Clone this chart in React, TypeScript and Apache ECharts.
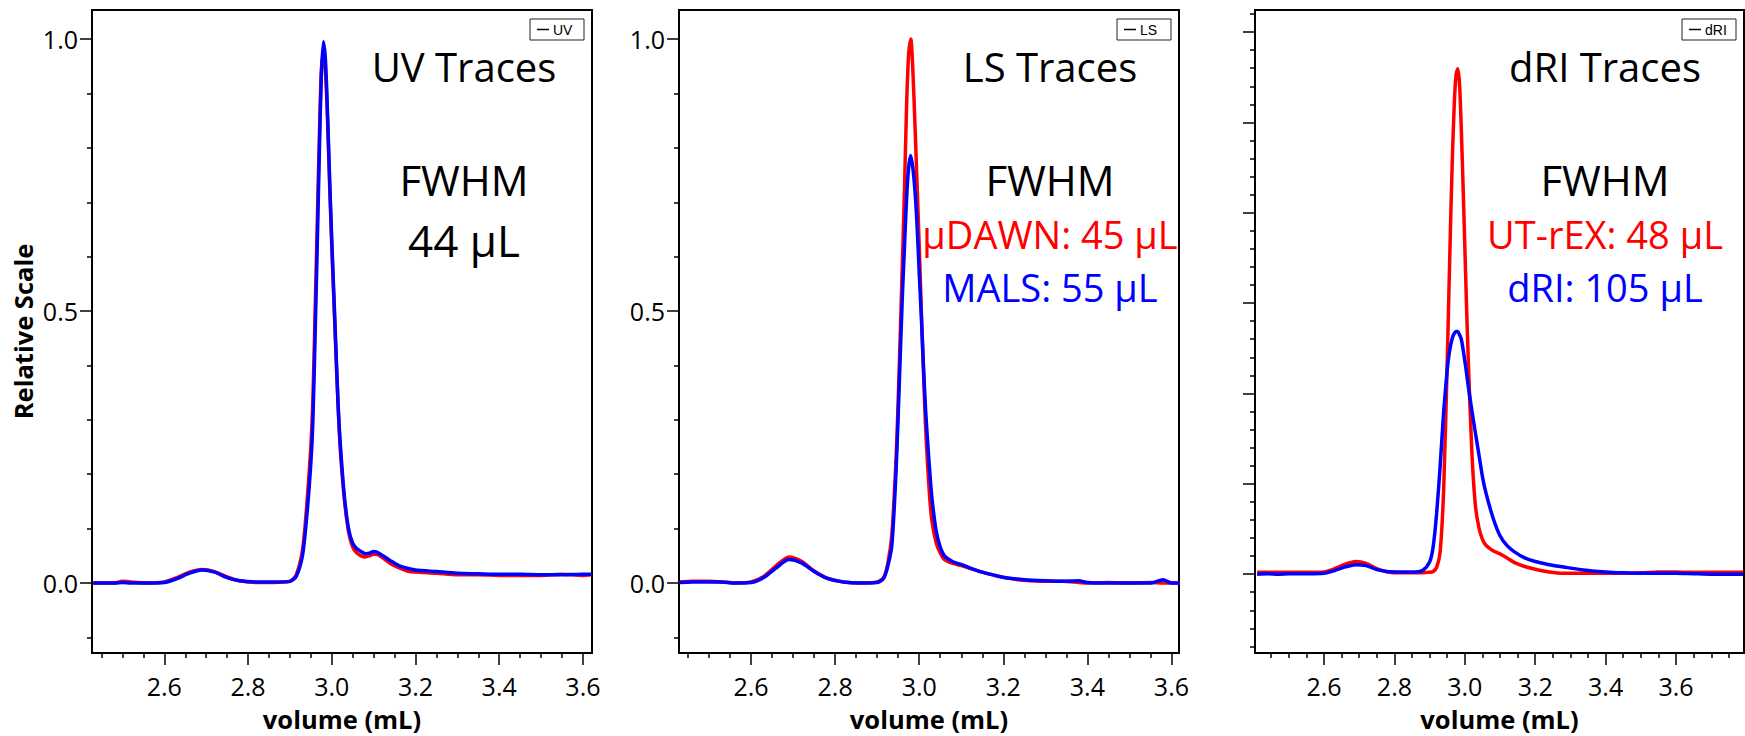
import React, { useEffect, useRef } from "react";
import * as echarts from "echarts";

// ---------- DATA ----------
// UV panel
const uvX = [2.43, 2.48, 2.5, 2.52, 2.55, 2.6, 2.63, 2.66, 2.69, 2.72, 2.75, 2.78, 2.82, 2.86, 2.9, 2.915, 2.93, 2.94, 2.95, 2.955, 2.96, 2.965, 2.97, 2.975, 2.98, 2.985, 2.99, 2.995, 3.0, 3.005, 3.01, 3.015, 3.02, 3.03, 3.04, 3.05, 3.06, 3.07, 3.08, 3.09, 3.1, 3.11, 3.12, 3.14, 3.16, 3.18, 3.2, 3.25, 3.3, 3.35, 3.4, 3.45, 3.5, 3.55, 3.6, 3.62];
const uvRed = [0.0, 0.0, 0.003, 0.002, 0.0, 0.002, 0.01, 0.02, 0.025, 0.021, 0.011, 0.004, 0.001, 0.001, 0.003, 0.015, 0.06, 0.14, 0.25, 0.34, 0.49, 0.65, 0.81, 0.94, 0.975, 0.94, 0.85, 0.73, 0.62, 0.52, 0.42, 0.33, 0.25, 0.155, 0.095, 0.066, 0.055, 0.05, 0.048, 0.05, 0.053, 0.052, 0.047, 0.036, 0.028, 0.022, 0.02, 0.018, 0.015, 0.015, 0.014, 0.014, 0.014, 0.016, 0.014, 0.015];
const uvBlue = [0.0, 0.0, 0.001, 0.0, 0.0, 0.001, 0.008, 0.018, 0.024, 0.02, 0.01, 0.004, 0.002, 0.002, 0.003, 0.012, 0.05, 0.12, 0.22, 0.3, 0.45, 0.61, 0.78, 0.93, 0.995, 0.96, 0.86, 0.74, 0.63, 0.53, 0.43, 0.33, 0.26, 0.16, 0.1, 0.073, 0.063, 0.058, 0.054, 0.055, 0.058, 0.056, 0.051, 0.041, 0.032, 0.027, 0.024, 0.021, 0.018, 0.017, 0.016, 0.016, 0.015, 0.015, 0.016, 0.016];

// LS panel
const lsX = [2.43, 2.46, 2.5, 2.53, 2.56, 2.6, 2.63, 2.66, 2.69, 2.72, 2.75, 2.78, 2.82, 2.86, 2.9, 2.915, 2.925, 2.935, 2.945, 2.95, 2.955, 2.96, 2.965, 2.97, 2.975, 2.98, 2.985, 2.99, 2.995, 3.0, 3.005, 3.01, 3.015, 3.02, 3.025, 3.03, 3.04, 3.05, 3.06, 3.08, 3.1, 3.12, 3.15, 3.18, 3.21, 3.25, 3.3, 3.34, 3.38, 3.4, 3.45, 3.5, 3.55, 3.58, 3.6, 3.62];
const lsRed = [0.002, 0.003, 0.003, 0.002, 0.0, 0.002, 0.012, 0.032, 0.048, 0.04, 0.022, 0.009, 0.002, 0.0, 0.002, 0.01, 0.035, 0.09, 0.23, 0.337, 0.46, 0.59, 0.726, 0.88, 0.975, 1.0, 0.94, 0.84, 0.73, 0.62, 0.5, 0.39, 0.29, 0.215, 0.156, 0.115, 0.075, 0.055, 0.043, 0.036, 0.032, 0.027, 0.02, 0.014, 0.009, 0.005, 0.003, 0.003, 0.001, 0.0, 0.001, 0.0, 0.001, 0.0, 0.0, 0.0];
const lsBlue = [0.001, 0.002, 0.002, 0.002, 0.0, 0.001, 0.01, 0.028, 0.043, 0.037, 0.021, 0.009, 0.002, 0.0, 0.001, 0.008, 0.03, 0.07, 0.208, 0.31, 0.42, 0.53, 0.62, 0.708, 0.765, 0.786, 0.762, 0.72, 0.655, 0.57, 0.49, 0.4, 0.32, 0.26, 0.205, 0.158, 0.097, 0.066, 0.05, 0.039, 0.034, 0.028, 0.02, 0.014, 0.009, 0.006, 0.004, 0.003, 0.004, 0.001, 0.0, 0.0, 0.0, 0.006, 0.0, 0.0];

// dRI panel
const driX = [2.41, 2.44, 2.47, 2.5, 2.55, 2.6, 2.63, 2.66, 2.69, 2.72, 2.75, 2.78, 2.82, 2.86, 2.88, 2.9, 2.91, 2.92, 2.93, 2.94, 2.95, 2.955, 2.96, 2.965, 2.97, 2.975, 2.98, 2.985, 2.99, 2.995, 3.0, 3.005, 3.01, 3.02, 3.03, 3.04, 3.05, 3.06, 3.08, 3.1, 3.12, 3.14, 3.17, 3.2, 3.24, 3.28, 3.33, 3.4, 3.45, 3.5, 3.55, 3.6, 3.65, 3.7, 3.75, 3.79];
const driRed = [0.004, 0.004, 0.004, 0.004, 0.004, 0.005, 0.012, 0.022, 0.028, 0.024, 0.012, 0.005, 0.003, 0.003, 0.003, 0.004, 0.006, 0.015, 0.05, 0.19, 0.47, 0.63, 0.79, 0.93, 1.04, 1.105, 1.119, 1.085, 0.985, 0.86, 0.725, 0.59, 0.47, 0.27, 0.152, 0.103, 0.077, 0.064, 0.052, 0.045, 0.036, 0.026, 0.017, 0.011, 0.005, 0.002, 0.002, 0.002, 0.002, 0.003, 0.005, 0.005, 0.004, 0.004, 0.004, 0.004];
const driBlue = [0.0, 0.001, 0.0, 0.001, 0.001, 0.002, 0.008, 0.016, 0.021, 0.019, 0.01, 0.006, 0.005, 0.005, 0.008, 0.027, 0.06, 0.135, 0.24, 0.36, 0.453, 0.485, 0.508, 0.524, 0.533, 0.537, 0.537, 0.53, 0.52, 0.498, 0.472, 0.445, 0.415, 0.362, 0.313, 0.265, 0.216, 0.18, 0.125, 0.085, 0.063, 0.05, 0.036, 0.028, 0.021, 0.016, 0.01, 0.005, 0.003, 0.002, 0.002, 0.002, 0.001, 0.0, 0.0, 0.0];

const xTickLabels = [2.6, 2.8, 3.0, 3.2, 3.4, 3.6];
const yTickLabels = [0.0, 0.5, 1.0];
const panelTitles = ["UV Traces", "LS Traces", "dRI Traces"];
const legendNames = ["UV", "LS", "dRI"];

const RED = "#ff0000";
const BLUE = "#0000ff";
const FONT = '"Open Sans", "Noto Sans", sans-serif';

function steps(a: number, b: number, step: number): number[] {
  const out: number[] = [];
  for (let v = a; v <= b + 1e-9; v += step) out.push(Math.round(v * 1000) / 1000);
  return out;
}

const panels = [
  { left: 92, width: 500, xMin: 2.4272, xMax: 3.6217, yMin: -0.1287, yMax: 1.0535, xs: uvX, red: uvRed, blue: uvBlue,
    yMajor: yTickLabels, yMinor: [-0.1, 0.1, 0.2, 0.3, 0.4, 0.6, 0.7, 0.8, 0.9], yLabels: true, xMinorEnd: 3.6 },
  { left: 679, width: 500, xMin: 2.4285, xMax: 3.618, yMin: -0.1287, yMax: 1.0535, xs: lsX, red: lsRed, blue: lsBlue,
    yMajor: yTickLabels, yMinor: [-0.1, 0.1, 0.2, 0.3, 0.4, 0.6, 0.7, 0.8, 0.9], yLabels: true, xMinorEnd: 3.6 },
  { left: 1255, width: 489, xMin: 2.404, xMax: 3.793, yMin: -0.1745, yMax: 1.2488, xs: driX, red: driRed, blue: driBlue,
    yMajor: [0, 0.2, 0.4, 0.6, 0.8, 1.0, 1.2], yMinor: steps(-0.16, 1.24, 0.04).filter((v) => Math.abs(v / 0.2 - Math.round(v / 0.2)) > 1e-6), yLabels: false, xMinorEnd: 3.75 },
];

const GRID_TOP = 10;
const GRID_H = 643;

export default function App() {
  const ref = useRef<HTMLDivElement>(null);
  useEffect(() => {
    if (!ref.current) return;
    const chart = echarts.init(ref.current, undefined, { renderer: "svg" });

    const grid: any[] = [];
    const xAxis: any[] = [];
    const yAxis: any[] = [];
    const series: any[] = [];
    const graphic: any[] = [];

    panels.forEach((p, i) => {
      grid.push({
        left: p.left, top: GRID_TOP, width: p.width, height: GRID_H,
        show: true, borderColor: "#000", borderWidth: 2, backgroundColor: "transparent",
        containLabel: false, outerBoundsMode: "none",
      });
      const xMinor = steps(2.45, p.xMinorEnd, 0.05).filter((v) => !xTickLabels.some((t) => Math.abs(t - v) < 1e-6));
      xAxis.push({
        type: "value", gridIndex: i, position: "bottom", min: p.xMin, max: p.xMax,
        axisLine: { show: false, onZero: false },
        splitLine: { show: false },
        axisTick: { show: true, customValues: xTickLabels, length: 12, lineStyle: { color: "#000", width: 1.5 } },
        axisLabel: { show: true, customValues: xTickLabels, margin: 20, color: "#000", fontFamily: FONT, fontSize: 25,
          formatter: (v: number) => v.toFixed(1) },
        name: "volume (mL)", nameLocation: "middle", nameGap: 53,
        nameTextStyle: { fontFamily: FONT, fontSize: 25.5, fontWeight: "bold", color: "#000" },
      });
      xAxis.push({
        type: "value", gridIndex: i, position: "bottom", min: p.xMin, max: p.xMax,
        axisLine: { show: false, onZero: false },
        splitLine: { show: false },
        axisTick: { show: true, customValues: xMinor, length: 5, lineStyle: { color: "#000", width: 1.5 } },
        axisLabel: { show: false },
      });
      yAxis.push({
        type: "value", gridIndex: i, position: "left", min: p.yMin, max: p.yMax,
        axisLine: { show: false, onZero: false },
        splitLine: { show: false },
        axisTick: { show: true, customValues: p.yMajor, length: 12, lineStyle: { color: "#000", width: 1.5 } },
        axisLabel: { show: p.yLabels, customValues: p.yMajor, margin: 14, color: "#000", fontFamily: FONT, fontSize: 25,
          formatter: (v: number) => v.toFixed(1) },
        name: i === 0 ? "Relative Scale" : "", nameLocation: "middle", nameGap: 56,
        nameTextStyle: { fontFamily: FONT, fontSize: 25.5, fontWeight: "bold", color: "#000" },
      });
      yAxis.push({
        type: "value", gridIndex: i, position: "left", min: p.yMin, max: p.yMax,
        axisLine: { show: false, onZero: false },
        splitLine: { show: false },
        axisTick: { show: true, customValues: p.yMinor, length: 5, lineStyle: { color: "#000", width: 1.5 } },
        axisLabel: { show: false },
      });
      series.push({
        type: "line", name: legendNames[i] + " A", xAxisIndex: i * 2, yAxisIndex: i * 2,
        data: p.xs.map((x, k) => [x, p.red[k]]), showSymbol: false, smooth: 0.25,
        lineStyle: { color: RED, width: 3.5 }, itemStyle: { color: RED }, clip: true,
      });
      series.push({
        type: "line", name: legendNames[i] + " B", xAxisIndex: i * 2, yAxisIndex: i * 2,
        data: p.xs.map((x, k) => [x, p.blue[k]]), showSymbol: false, smooth: 0.25,
        lineStyle: { color: BLUE, width: 3.5 }, itemStyle: { color: BLUE }, clip: true,
      });

      // legend box
      const boxRight = p.left + p.width - 8;
      const boxW = 54;
      graphic.push({
        type: "group", children: [
          { type: "rect", shape: { x: boxRight - boxW, y: 19, width: boxW, height: 21 },
            style: { fill: "#fff", stroke: "#222", lineWidth: 1 } },
          { type: "line", shape: { x1: boxRight - boxW + 7, y1: 29.5, x2: boxRight - boxW + 19, y2: 29.5 },
            style: { stroke: "#000", lineWidth: 1.5 } },
          { type: "text", x: boxRight - boxW + 23, y: 30,
            style: { text: legendNames[i], fill: "#000", font: '14px "Liberation Sans", Arial, sans-serif', textAlign: "left", textVerticalAlign: "middle" } },
        ],
      });
    });

    const txt = (text: string, x: number, y: number, color: string, size: number) => ({
      type: "text", x, y,
      style: { text, fill: color, font: `${size}px ${FONT}`, textAlign: "center", textVerticalAlign: "middle" },
    });
    graphic.push(txt(panelTitles[0], 464, 66, "#000", 40));
    graphic.push(txt("FWHM", 464, 179, "#000", 42));
    graphic.push(txt("44 µL", 464, 240, "#000", 44));
    graphic.push(txt(panelTitles[1], 1050, 66, "#000", 40));
    graphic.push(txt("FWHM", 1050, 179, "#000", 42));
    graphic.push(txt("µDAWN: 45 µL", 1050, 234, RED, 38));
    graphic.push(txt("MALS: 55 µL", 1050, 287, BLUE, 38));
    graphic.push(txt(panelTitles[2], 1605, 66, "#000", 40));
    graphic.push(txt("FWHM", 1605, 179, "#000", 42));
    graphic.push(txt("UT-rEX: 48 µL", 1605, 234, RED, 38));
    graphic.push(txt("dRI: 105 µL", 1605, 287, BLUE, 38));

    chart.setOption({
      animation: false,
      backgroundColor: "#fff",
      grid, xAxis, yAxis, series, graphic,
    });
    return () => chart.dispose();
  }, []);
  return (
    <div
      ref={ref}
      style={{ position: "absolute", left: 0, top: 0, width: 1745, height: 736, background: "#fff" }}
    />
  );
}
